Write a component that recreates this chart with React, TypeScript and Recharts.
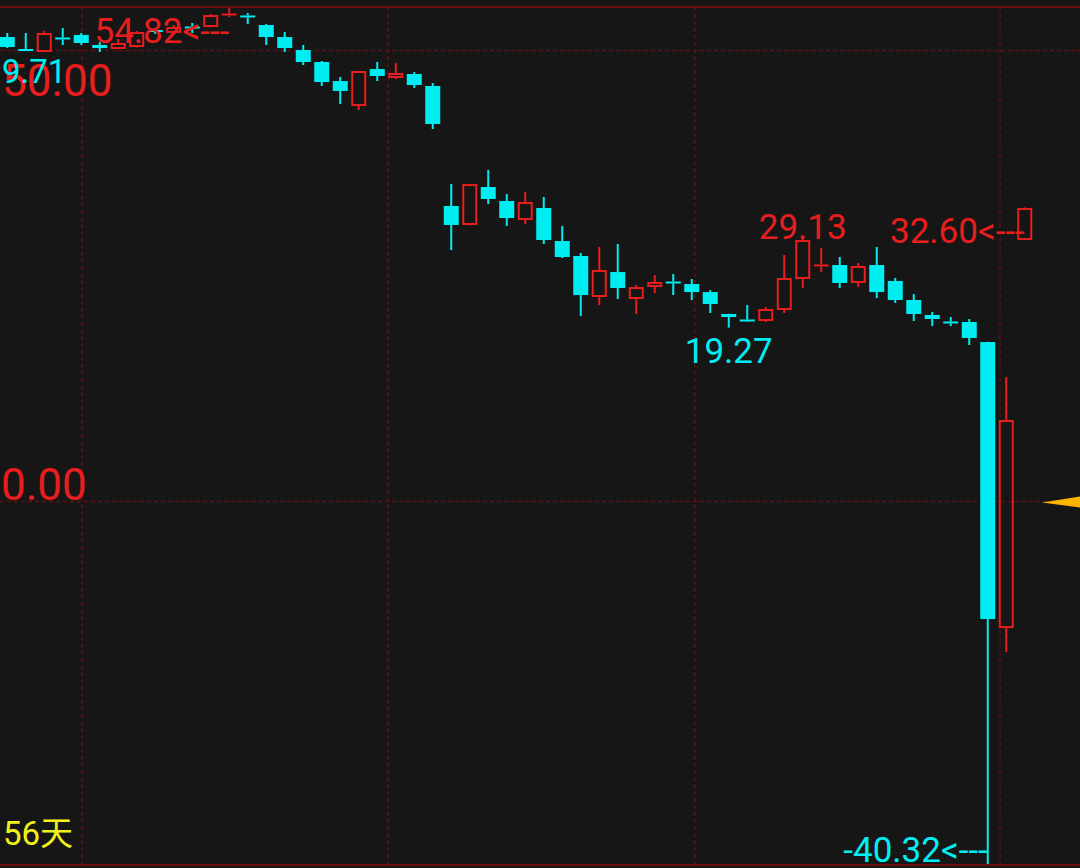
import { ComposedChart, Bar, XAxis, YAxis, ReferenceLine, CartesianGrid } from "recharts";

// OHLC per day, oldest first
const opens = [
  51.49, 50.16, 49.83, 51.44, 51.72, 50.61, 50.16, 50.38, 52.27, 51.94,
  52.66, 52.6, 53.99, 53.88, 52.82, 51.49, 50.05, 48.72, 46.61, 43.84,
  47.94, 46.95, 47.39, 46.06, 32.75, 30.65, 34.86, 33.31, 31.2, 32.53,
  28.87, 27.21, 22.66, 25.43, 22.44, 23.77, 24.38, 24.1, 23.21, 20.78,
  20.17, 20.0, 21.22, 24.66, 26.16, 26.21, 24.22, 26.21, 24.44, 22.33,
  20.67, 19.95, 19.89, 17.67, -14.05, 28.98,
];
const highs = [
  51.94, 51.94, 52.16, 52.49, 51.94, 50.94, 51.27, 52.16, 52.49, 52.82,
  53.05, 54.04, 54.82, 54.15, 52.93, 52.05, 50.61, 48.83, 47.06, 47.75,
  48.72, 48.61, 47.61, 46.39, 35.19, 35.22, 36.75, 34.08, 34.31, 33.75,
  30.54, 27.54, 28.21, 28.54, 23.99, 25.1, 25.21, 24.66, 23.43, 20.8,
  21.77, 21.55, 27.32, 29.13, 28.1, 27.1, 26.43, 28.21, 24.77, 22.99,
  21.0, 20.44, 20.22, 17.7, 13.79, 32.6,
];
const lows = [
  50.27, 50.01, 49.83, 50.61, 50.61, 49.83, 50.12, 50.33, 51.83, 51.83,
  51.94, 52.58, 53.71, 52.93, 50.61, 49.83, 48.39, 46.06, 44.06, 43.4,
  46.61, 46.84, 45.84, 41.29, 27.87, 30.6, 32.97, 30.54, 30.76, 28.54,
  26.99, 20.56, 21.77, 22.44, 20.78, 23.1, 22.88, 22.33, 20.89, 19.27,
  20.04, 19.89, 20.89, 23.66, 25.43, 23.66, 23.77, 22.55, 22.0, 20.0,
  19.45, 19.45, 17.34, -40.32, -16.71, 28.98,
];
const closes = [
  50.38, 50.05, 51.94, 51.33, 50.83, 50.27, 50.83, 52.05, 51.94, 52.6,
  52.55, 53.93, 54.1, 53.77, 51.49, 50.27, 48.72, 46.5, 45.51, 47.72,
  47.17, 47.5, 46.17, 41.85, 30.65, 35.19, 33.53, 31.42, 33.2, 28.98,
  27.1, 22.88, 25.66, 23.66, 23.77, 24.33, 24.27, 23.21, 21.89, 20.44,
  20.06, 21.33, 24.77, 28.98, 26.27, 24.22, 26.1, 23.21, 22.33, 20.78,
  20.22, 19.84, 18.12, -13.05, 9.02, 32.53,
];

// labelled highs / lows (day index)
const highMarks = [12, 43, 55];
const lowMarks = [39, 53];
const gridValues = [50, 0];
const sideText = "9.71";

const RED = "#e81e1e";
const CYAN = "#00eef2";
const GRID = "#5c1212";
const BORDER = "#700e0e";
const FONT = "Roboto, 'Noto Sans CJK SC', sans-serif";

const yMax = Math.max(...highs);
const yMin = Math.min(...lows);
const maxIdx = highs.indexOf(yMax);
const minIdx = lows.indexOf(yMin);

const data = opens.map((o, i) => ({
  day: i,
  open: o,
  high: highs[i],
  low: lows[i],
  close: closes[i],
  range: [lows[i], highs[i]],
}));

function Candle(props: any) {
  const { x, y, width, height, payload } = props;
  const { open, close, high, low, day } = payload;
  const top = Math.min(y, y + height);
  const span = Math.abs(height);
  const toY = (v: number) => top + ((high - v) / (high - low || 1)) * span;
  const up = close > open;
  const color = up ? RED : CYAN;
  const cx = x + width / 2;
  const bTop = toY(Math.max(open, close));
  let bBot = toY(Math.min(open, close));
  const flat = bBot - bTop < 3;
  if (flat) bBot = bTop + 2;
  const yHigh = top;
  const yLow = top + span;

  const labels: any[] = [];
  if (highMarks.includes(day)) {
    const arrow = day === maxIdx || day === highs.length - 1;
    labels.push(
      <text
        key="h"
        x={cx}
        y={arrow ? yHigh + 36 : yHigh}
        textAnchor={arrow ? "end" : "middle"}
        fill={RED}
        fontSize={35}
        fontFamily={FONT}
      >
        {high.toFixed(2) + (arrow ? "<---" : "")}
      </text>
    );
  }
  if (lowMarks.includes(day)) {
    const arrow = day === minIdx;
    labels.push(
      <text
        key="l"
        x={cx}
        y={arrow ? yLow - 3 : yLow + 35}
        textAnchor={arrow ? "end" : "middle"}
        fill={CYAN}
        fontSize={35}
        fontFamily={FONT}
      >
        {low.toFixed(2) + (arrow ? "<---" : "")}
      </text>
    );
  }

  return (
    <g>
      <line x1={cx} x2={cx} y1={yHigh} y2={bTop} stroke={color} strokeWidth={2} />
      <line x1={cx} x2={cx} y1={bBot} y2={yLow} stroke={color} strokeWidth={2} />
      {up && !flat ? (
        <rect
          x={x + 1}
          y={bTop + 1}
          width={width - 2}
          height={bBot - bTop - 2}
          fill="none"
          stroke={color}
          strokeWidth={2}
        />
      ) : (
        <rect x={x} y={bTop} width={width} height={bBot - bTop} fill={color} />
      )}
      {labels}
    </g>
  );
}

const TopLabel = ({ viewBox }: any) => (
  <g fontFamily={FONT}>
    <text x={viewBox.x + 2} y={viewBox.y + 46} fill={RED} fontSize={44}>
      {gridValues[0].toFixed(2)}
    </text>
    <text x={viewBox.x + 2} y={viewBox.y + 33} fill={CYAN} fontSize={33}>
      {sideText}
    </text>
  </g>
);

const ZeroLabel = ({ viewBox }: any) => {
  const right = viewBox.x + viewBox.width;
  return (
    <g fontFamily={FONT}>
      <text x={viewBox.x + 1} y={viewBox.y - 1} fill={RED} fontSize={44}>
        {gridValues[1].toFixed(2)}
      </text>
      <polygon
        points={`${right},${viewBox.y - 5} ${right},${viewBox.y + 6} ${right - 38},${viewBox.y + 1}`}
        fill="#ffb400"
      />
    </g>
  );
};

const DaysLabel = ({ viewBox }: any) => (
  <text x={viewBox.x + 3} y={viewBox.y - 20} fill="#f2f21a" fontSize={33} fontFamily={FONT}>
    {opens.length + "天"}
  </text>
);

// dashed horizontal grid at the labelled values, drawn behind the candles
const hGrid = ({ yAxis, offset }: any) =>
  gridValues.map((v) =>
    yAxis && typeof yAxis.scale === "function"
      ? yAxis.scale(v)
      : offset.top + ((yMax - v) / (yMax - yMin)) * offset.height
  );

export default function App() {
  return (
    <div style={{ width: 1080, height: 868, background: "#161616" }}>
      <style>{"body{margin:0;background:#161616}"}</style>
      <ComposedChart
        width={1080}
        height={868}
        data={data}
        margin={{ top: 7, right: 0, bottom: 3, left: 0 }}
      >
        <CartesianGrid
          stroke={GRID}
          strokeWidth={1.5}
          strokeDasharray="4 3"
          horizontalCoordinatesGenerator={hGrid}
          verticalCoordinatesGenerator={({ offset }: any) =>
            [0.076, 0.3593, 0.6435, 0.926].map((f) => offset.left + f * offset.width)
          }
        />
        <XAxis dataKey="day" hide padding={{ left: -2.25, right: 46.25 }} />
        <YAxis hide type="number" domain={[yMin, yMax]} allowDataOverflow />
        <ReferenceLine y={yMax} stroke={BORDER} strokeWidth={2} />
        <ReferenceLine y={yMin} stroke={BORDER} strokeWidth={2} label={<DaysLabel />} />
        <ReferenceLine y={gridValues[0]} stroke="none" label={<TopLabel />} />
        <ReferenceLine y={gridValues[1]} stroke="none" label={<ZeroLabel />} />
        <Bar dataKey="range" barSize={15} shape={<Candle />} isAnimationActive={false} />
      </ComposedChart>
    </div>
  );
}
